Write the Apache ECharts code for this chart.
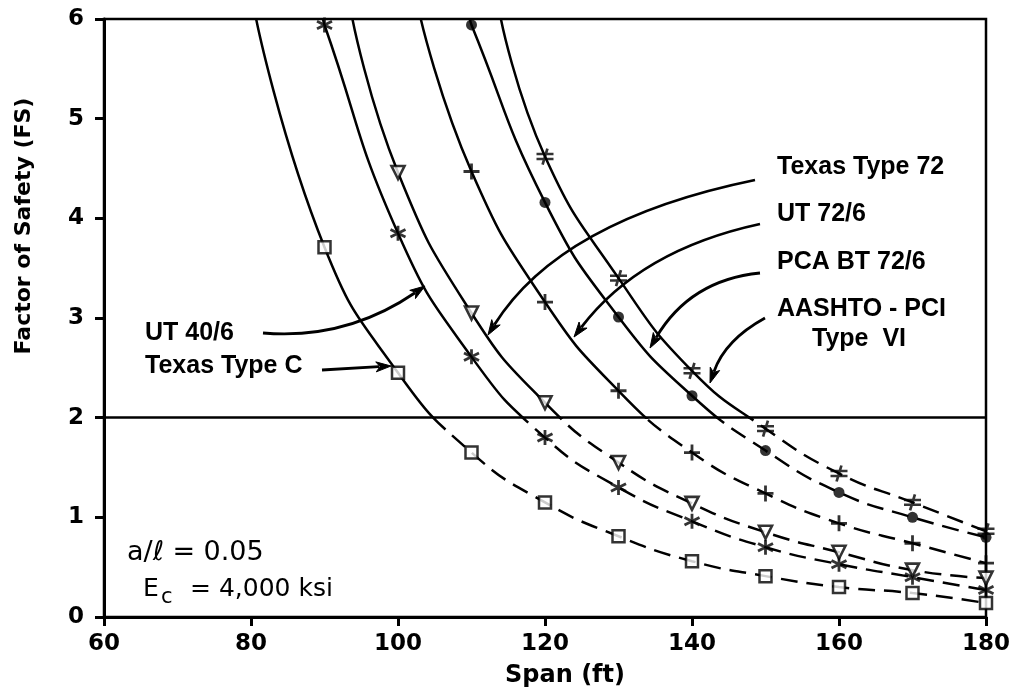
<!DOCTYPE html>
<html>
<head>
<meta charset="utf-8">
<script src="https://cdn.jsdelivr.net/npm/echarts@6/dist/echarts.min.js"></script>
<style>
html,body{margin:0;padding:0;background:#fff;}
#chart{width:1018px;height:697px;}
</style>
</head>
<body>
<div id="chart"></div>
<script>
// ---- data ----
const spans = [90, 100, 110, 120, 130, 140, 150, 160, 170, 180];
const fsTexasC  = [3.71, 2.45, 1.65, 1.15, 0.81, 0.56, 0.41, 0.30, 0.24, 0.14];
const fsUT40    = [5.94, 3.85, 2.61, 1.80, 1.30, 0.96, 0.70, 0.53, 0.40, 0.27];
const fsTexas72 = [null, 4.46, 3.05, 2.15, 1.55, 1.14, 0.85, 0.65, 0.47, 0.39];
const fsUT72    = [null, null, 4.47, 3.16, 2.27, 1.65, 1.24, 0.94, 0.74, 0.54];
const fsPCA     = [null, null, 5.94, 4.16, 3.01, 2.22, 1.67, 1.25, 1.00, 0.80];
const fsAASHTO  = [null, null, null, 4.62, 3.40, 2.47, 1.89, 1.44, 1.15, 0.86];
// span where each curve leaves the top of the plot (FS = 6)
const spanAtFS6 = [80.7, 89.8, 93.8, 103.1, 109.8, 114.0];
const curveNames = ['Texas Type C', 'UT 40/6', 'Texas Type 72', 'UT 72/6', 'PCA BT 72/6', 'AASHTO - PCI Type VI'];
const xTicks = [60, 80, 100, 120, 140, 160, 180];
const yTicks = [0, 1, 2, 3, 4, 5, 6];
const fsLimit = 2;

const allFS = [fsTexasC, fsUT40, fsTexas72, fsUT72, fsPCA, fsAASHTO];

const markerStyles = [
  {symbol: 'rect', symbolSize: 12, itemStyle: {color: '#fff', borderColor: '#000', borderWidth: 2.5}},
  {symbol: 'path://M6,0L6,12M0.8,3L11.2,9M0.8,9L11.2,3', symbolSize: 15, itemStyle: {color: 'none', borderColor: '#000', borderWidth: 2.8}},
  {symbol: 'triangle', symbolRotate: 180, symbolSize: 13, itemStyle: {color: '#fff', borderColor: '#000', borderWidth: 2.6}},
  {symbol: 'path://M6,0L6,12M0,6L12,6', symbolSize: 16, itemStyle: {color: 'none', borderColor: '#000', borderWidth: 2.8}},
  {symbol: 'circle', symbolSize: 11, itemStyle: {color: '#000', borderColor: '#000', borderWidth: 0}},
  {symbol: 'path://M0,4.5L14,4.5M0,8.5L14,8.5M9,0L5,13', symbolSize: [17, 16], itemStyle: {color: 'none', borderColor: '#000', borderWidth: 2.6}}
];

// layout of the plot area (pixels)
const G = {left: 104, right: 32, top: 19, bottom: 80};
const plotH = 697 - G.top - G.bottom;
const yMax = yTicks[yTicks.length - 1];
const limitPx = G.top + plotH * (1 - fsLimit / yMax);   // pixel row of FS = 2

const series = [];
allFS.forEach(function (fs, i) {
  const pts = [];
  spans.forEach(function (s, k) { if (fs[k] !== null) pts.push([s, fs[k]]); });
  const full = [[spanAtFS6[i], 6]].concat(pts);
  // solid part: drawn in the upper band (FS >= 2), clipped by its grid
  series.push({
    name: curveNames[i] + ' solid', type: 'line', data: full, smooth: 0.5,
    xAxisIndex: 1, yAxisIndex: 1, clip: true,
    showSymbol: false, symbol: 'none', silent: true, z: 3,
    lineStyle: {color: '#000', width: 2.5, type: 'solid'}
  });
  // dashed part: lower band (FS <= 2)
  series.push({
    name: curveNames[i] + ' dashed', type: 'line', data: full, smooth: 0.5,
    xAxisIndex: 2, yAxisIndex: 2, clip: true,
    showSymbol: false, symbol: 'none', silent: true, z: 3,
    lineStyle: {color: '#000', width: 2.5, type: [17, 9]}
  });
  const m = markerStyles[i];
  series.push(Object.assign({
    name: curveNames[i], type: 'scatter', data: pts, z: 5, silent: true,
    xAxisIndex: 0, yAxisIndex: 0, clip: false,
    emphasis: {disabled: true}
  }, m));
});
series[2].markLine = {
  silent: true, symbol: 'none', animation: false,
  label: {show: false},
  lineStyle: {color: '#000', width: 2.5, type: 'solid'},
  data: [{yAxis: fsLimit}]
};

const chart = echarts.init(document.getElementById('chart'), null, {renderer: 'canvas'});

function arrow(p0, c, p2) {
  const dx = p2[0] - c[0], dy = p2[1] - c[1];
  const len = Math.sqrt(dx * dx + dy * dy);
  const ux = dx / len, uy = dy / len;
  const L = 15, W = 5;
  const bx = p2[0] - ux * L, by = p2[1] - uy * L;
  return [
    {type: 'bezierCurve', silent: true, z: 10,
     shape: {x1: p0[0], y1: p0[1], cpx1: c[0], cpy1: c[1], x2: bx + ux * 3, y2: by + uy * 3},
     style: {stroke: '#000', lineWidth: 2.8, fill: 'none'}},
    {type: 'polygon', silent: true, z: 10,
     shape: {points: [[p2[0], p2[1]], [bx - uy * W, by + ux * W], [bx + ux * 4, by + uy * 4], [bx + uy * W, by - ux * W]]},
     style: {fill: '#000', stroke: '#000', lineWidth: 1}}
  ];
}

const labelFont = 'bold 25px "Liberation Sans", Arial, sans-serif';
function txt(t, x, y, font, align) {
  return {type: 'text', silent: true, z: 10, x: x, y: y,
    style: {text: t, font: font || labelFont, fill: '#000', align: align || 'left', verticalAlign: 'middle'}};
}

let graphics = [];
graphics = graphics.concat(arrow([755, 180], [560, 220], [488, 335]));
graphics = graphics.concat(arrow([760, 224], [640, 250], [574, 337]));
graphics = graphics.concat(arrow([760, 273], [690, 280], [650, 348]));
graphics = graphics.concat(arrow([765, 318], [725, 340], [710, 383]));
graphics = graphics.concat(arrow([263, 333], [346, 340], [425, 286]));
graphics = graphics.concat(arrow([322, 370], [356, 368], [391, 366]));
graphics.push(txt('Texas Type 72', 777, 167));
graphics.push(txt('UT 72/6', 777, 214));
graphics.push(txt('PCA BT 72/6', 777, 262));
graphics.push(txt('AASHTO - PCI', 777, 309));
graphics.push(txt('Type  VI', 812, 339));
graphics.push(txt('UT 40/6', 145, 333));
graphics.push(txt('Texas Type C', 145, 366));
graphics.push(txt('a/ℓ = 0.05', 127, 553, '27px "DejaVu Sans", sans-serif'));
graphics.push(txt('E', 143, 589, '25px "DejaVu Sans", sans-serif'));
graphics.push(txt('c', 161, 598, '21px "DejaVu Sans", sans-serif'));
graphics.push(txt('= 4,000 ksi', 190, 589, '25px "DejaVu Sans", sans-serif'));
graphics.push({type: 'text', silent: true, z: 10, x: 24, y: 226, rotation: Math.PI / 2,
  style: {text: 'Factor of Safety (FS)', font: 'bold 22px "DejaVu Sans", sans-serif', fill: '#000', align: 'center', verticalAlign: 'middle'}});
graphics.push(txt('Span (ft)', 565, 676, 'bold 24px "DejaVu Sans", sans-serif', 'center'));

const axisFont = {color: '#000', fontFamily: 'DejaVu Sans', fontWeight: 'bold', fontSize: 23};
const hiddenX = function (gi) {
  return {type: 'value', gridIndex: gi, min: xTicks[0], max: xTicks[xTicks.length - 1], show: false};
};

chart.setOption({
  animation: false,
  backgroundColor: '#fff',
  grid: [
    {left: G.left, right: G.right, top: G.top, bottom: G.bottom, show: true, borderColor: '#000', borderWidth: 2.5, backgroundColor: 'transparent'},
    {left: G.left, right: G.right, top: G.top, bottom: 697 - limitPx, show: false},
    {left: G.left, right: G.right, top: limitPx, bottom: G.bottom, show: false}
  ],
  xAxis: [{
    type: 'value', gridIndex: 0, min: xTicks[0], max: xTicks[xTicks.length - 1], interval: 20,
    axisLine: {show: true, onZero: false, lineStyle: {color: '#000', width: 3}},
    axisTick: {show: true, length: 9, lineStyle: {color: '#000', width: 3}},
    axisLabel: Object.assign({margin: 16}, axisFont),
    splitLine: {show: false}
  }, hiddenX(1), hiddenX(2)],
  yAxis: [{
    type: 'value', gridIndex: 0, min: yTicks[0], max: yMax, interval: 1,
    axisLine: {show: true, onZero: false, lineStyle: {color: '#000', width: 3}},
    axisTick: {show: true, length: 9, lineStyle: {color: '#000', width: 3}},
    axisLabel: Object.assign({margin: 20}, axisFont),
    splitLine: {show: false}
  },
  {type: 'value', gridIndex: 1, min: fsLimit, max: yMax, show: false},
  {type: 'value', gridIndex: 2, min: yTicks[0], max: fsLimit, show: false}],
  series: series,
  graphic: graphics
});
</script>
</body>
</html>
